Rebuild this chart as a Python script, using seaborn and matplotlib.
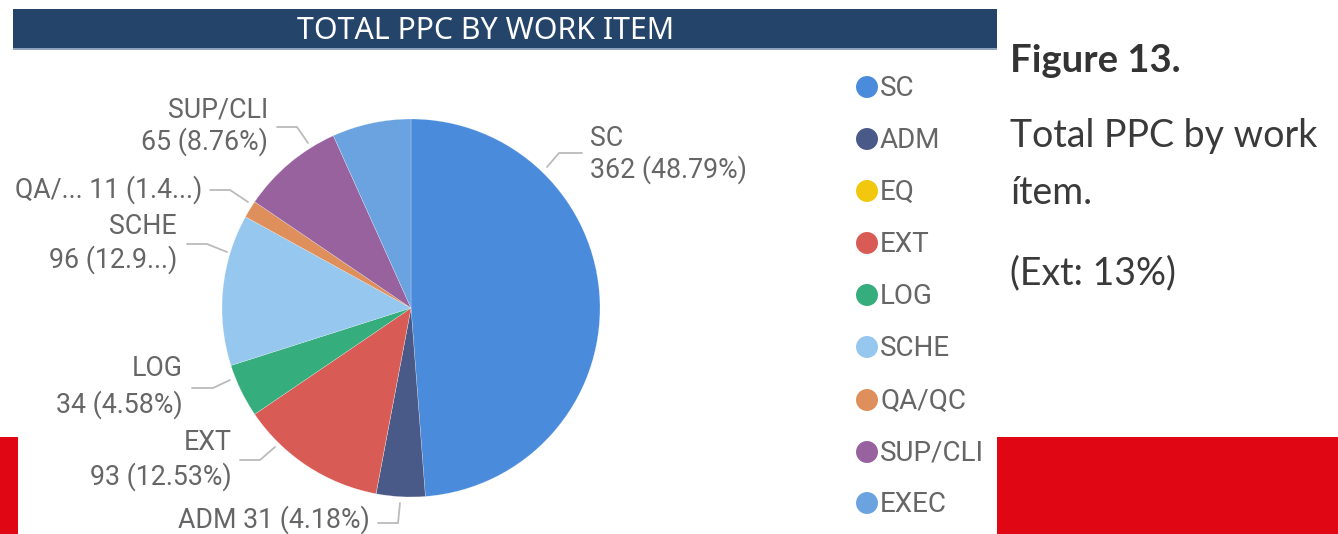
import matplotlib
matplotlib.use("Agg")
import matplotlib.pyplot as plt
import seaborn as sns
from matplotlib.patches import Rectangle

# ---- data ----
categories = ["SC", "ADM", "EQ", "EXT", "LOG", "SCHE", "QA/QC", "SUP/CLI", "EXEC"]
values = [362, 31, 0, 93, 34, 96, 11, 65, 50]
colors = ["#4A8CDB", "#4A5A88", "#F2C80F", "#D95B55", "#35AD7D",
          "#95C7EF", "#DE8F5B", "#97629E", "#6BA3E0"]
title = "TOTAL PPC BY WORK ITEM"
caption_bold = "Figure 13."
caption_lines = ["Total PPC by work", "ítem.", "(Ext: 13%)"]

sns.set_theme(style="white")
plt.rcParams["font.family"] = ["Roboto", "DejaVu Sans"]

W, H = 1338, 534
fig = plt.figure(figsize=(W / 100, H / 100), dpi=100)
fig.patch.set_facecolor("white")

# background overlay axes in pixel coordinates
bg = fig.add_axes([0, 0, 1, 1], zorder=0)
bg.set_xlim(0, W)
bg.set_ylim(H, 0)
bg.axis("off")

red = "#E10613"
bg.add_patch(Rectangle((0, 437), 18, H - 437, color=red, lw=0))
bg.add_patch(Rectangle((997, 437), W - 997, H - 437, color=red, lw=0))
bg.add_patch(Rectangle((13, 9), 984, 39, color="#25446A", lw=0))
bg.add_patch(Rectangle((13, 48), 984, 1.5, color="#8FA3BC", lw=0))
bg.text(486, 31, title, color="white", fontsize=21.8, ha="center", va="center",
        family=["Noto Sans", "DejaVu Sans"])

# caption on the right
cap_font = ["Lato", "DejaVu Sans"]
bg.text(1010, 61, caption_bold, color="#333333", fontsize=27.5, fontweight="bold",
        ha="left", va="center", family=cap_font)
for txt, yy in zip(caption_lines, [136, 193, 273]):
    bg.text(1010, yy, txt, color="#3a3a3a", fontsize=27, ha="left", va="center",
            family=cap_font)

# ---- pie ----
cx, cy, r = 411, 308, 189
pax = fig.add_axes([(cx - r) / W, (H - cy - r) / H, 2 * r / W, 2 * r / H], zorder=2)
pax.pie(values, colors=colors, startangle=90, counterclock=False, radius=1,
        wedgeprops=dict(edgecolor="#FFFFFF80", linewidth=0.3))
pax.set_xlim(-1, 1)
pax.set_ylim(-1, 1)
pax.set_aspect("equal")
pax.axis("off")

# ---- data labels with leader lines ----
total = sum(values)
trunc = {"SCHE": "96 (12.9...)", "QA/QC": "QA/... 11 (1.4...)"}
# layout: (ha, x, y-lines, leader polyline)
layout = {
    "SC": ("left", 590, [138, 170], [(547, 167), (559, 153), (582, 153)]),
    "ADM": ("right", 370, [520], [(378, 523), (398, 523), (400, 503)]),
    "EXT": ("right", 232, [443, 477], [(240, 460), (260, 460), (275, 447)]),
    "LOG": ("right", 183, [368, 405], [(192, 388), (213, 388), (230, 380)]),
    "SCHE": ("right", 177, [227, 260], [(187, 244), (207, 244), (227, 252)]),
    "QA/QC": ("right", 202, [190], [(210, 190), (230, 190), (248, 202)]),
    "SUP/CLI": ("right", 268, [110, 142], [(277, 127), (297, 127), (308, 143)]),
}
lab_color = "#666666"
for cat, val in zip(categories, values):
    if cat not in layout:
        continue
    ha, x, ys, pts = layout[cat]
    pct = 100 * val / total
    line2 = f"{val} ({pct:.2f}%)"
    if len(ys) == 2:
        texts = [cat, trunc.get(cat, line2)]
    else:
        texts = [trunc.get(cat, f"{cat} {line2}")]
    for t, yy in zip(texts, ys):
        bg.text(x, yy, t, color=lab_color, fontsize=19.3, ha=ha, va="center")
    bg.plot([p[0] for p in pts], [p[1] for p in pts], color="#BBBBBB", lw=1.3,
            solid_joinstyle="miter")

# ---- legend ----
leg_y = [87, 139, 191, 243, 295, 347, 400, 452, 503]
for cat, col, yy in zip(categories, colors, leg_y):
    bg.scatter([867], [yy], s=250, color=col, edgecolor="none", zorder=3)
    bg.text(880, yy + 1, cat, color=lab_color, fontsize=20, ha="left", va="center")

fig.savefig("out.png", dpi=100)
